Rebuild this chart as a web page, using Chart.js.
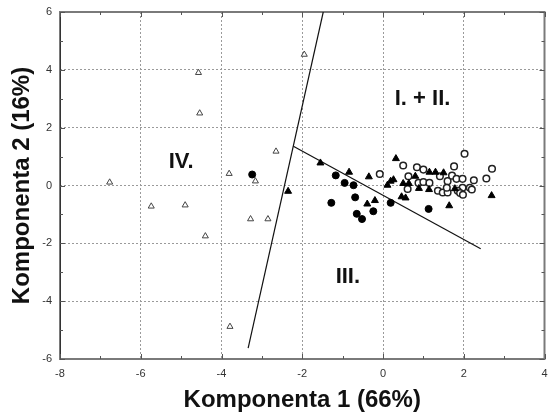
<!DOCTYPE html>
<html>
<head>
<meta charset="utf-8">
<title>Komponenta 1 (66%) / Komponenta 2 (16%)</title>
<script src="https://cdn.jsdelivr.net/npm/chart.js@4.4.1/dist/chart.umd.min.js"></script>
<style>
  html, body { margin: 0; padding: 0; background: #fff; overflow: hidden; }
  #wrap { width: 550px; height: 420px; }
</style>
</head>
<body>
<div id="wrap"><canvas id="pca" width="550" height="420"></canvas></div>
<script>
'use strict';

// Axis ticks.
var xTicks = [-8, -6, -4, -2, 0, 2, 4];
var yTicks = [-6, -4, -2, 0, 2, 4, 6];

// Group IV, open triangles.
var groupIV = [
  [-6.77, 0.11], [-5.74, -0.72], [-4.90, -0.68], [-4.57, 3.90], [-4.54, 2.50],
  [-4.40, -1.75], [-3.81, 0.41], [-3.79, -4.88], [-3.28, -1.16], [-2.85, -1.16],
  [-3.16, 0.15], [-2.65, 1.18], [-1.95, 4.53]
];

// Group III, filled circles.
var groupIII = [
  [-3.24, 0.38], [-1.17, 0.35], [-0.95, 0.09], [-0.73, 0.01], [-1.28, -0.60],
  [-0.69, -0.41], [-0.65, -0.98], [-0.52, -1.16], [-0.24, -0.89], [0.19, -0.60],
  [1.13, -0.81]
];

// Group I, filled triangles.
var groupI = [
  [-2.35, -0.20], [-1.55, 0.78], [-0.84, 0.46], [-0.35, 0.30], [-0.39, -0.64],
  [-0.20, -0.52], [0.11, 0.01], [0.19, 0.15], [0.26, 0.20], [0.32, 0.93],
  [0.46, -0.39], [0.56, -0.43], [0.50, 0.07], [0.64, 0.07], [0.80, 0.32],
  [0.89, -0.10], [1.14, -0.14], [1.15, 0.46], [1.30, 0.46], [1.50, 0.44],
  [1.78, -0.11], [1.64, -0.70], [2.69, -0.35]
];

// Group II, open circles.
var groupII = [
  [-0.08, 0.40], [0.50, 0.69], [0.84, 0.63], [1.00, 0.55], [0.63, 0.32],
  [0.61, -0.12], [0.88, 0.09], [1.00, 0.12], [1.15, 0.09], [1.36, -0.18],
  [1.48, -0.24], [1.60, -0.24], [1.41, 0.32], [1.60, 0.15], [1.71, 0.34],
  [1.82, 0.23], [1.58, -0.08], [1.76, 0.66], [2.02, 1.10], [1.97, 0.23],
  [1.97, -0.08], [1.85, -0.18], [1.91, -0.26], [1.98, -0.32], [2.15, -0.08],
  [2.20, -0.14], [2.25, 0.18], [2.56, 0.24], [2.70, 0.58]
];

// Boundary lines between the groups.
var boundaryA = [[-3.34, -5.62], [-1.48, 6.00]];
var boundaryB = [[-2.22, 1.36], [2.42, -2.19]];

// Region labels, anchored in data units.
var regionText = ['I. + II.', 'III.', 'IV.'];
var regionX = [0.98, -0.87, -5.00];
var regionY = [3.00, -3.15, 0.80];

var toPoints = function (list) {
  return list.map(function (p) { return { x: p[0], y: p[1] }; });
};

/**
 * Draws the plot frame, inside tick marks and the region labels.
 */
var pcaDecor = {
  id: 'pcaDecor',
  beforeDatasetsDraw: function (chart) {
    var ctx = chart.ctx;
    var area = chart.chartArea;
    var xs = chart.scales.x;
    var ys = chart.scales.y;
    var v, px, py, len;

    ctx.save();
    ctx.strokeStyle = '#7a7a7a';
    ctx.lineWidth = 2;
    ctx.strokeRect(area.left, area.top, area.right - area.left, area.bottom - area.top);
    ctx.strokeStyle = '#333';
    ctx.lineWidth = 1;
    ctx.beginPath();
    ctx.moveTo(area.left + 0.5, area.top);
    ctx.lineTo(area.left + 0.5, area.bottom);
    ctx.stroke();

    // Inside ticks, long on the labelled values, short between them.
    ctx.strokeStyle = '#555';
    ctx.lineWidth = 1;
    ctx.beginPath();
    for (v = xTicks[0]; v <= xTicks[xTicks.length - 1]; v += 1) {
      len = (v % 2 === 0) ? 5 : 3;
      px = Math.round(xs.getPixelForValue(v)) + 0.5;
      ctx.moveTo(px, area.bottom);
      ctx.lineTo(px, area.bottom - len);
      ctx.moveTo(px, area.top);
      ctx.lineTo(px, area.top + len);
    }
    for (v = yTicks[0]; v <= yTicks[yTicks.length - 1]; v += 1) {
      len = (v % 2 === 0) ? 5 : 3;
      py = Math.round(ys.getPixelForValue(v)) + 0.5;
      ctx.moveTo(area.left, py);
      ctx.lineTo(area.left + len, py);
      ctx.moveTo(area.right, py);
      ctx.lineTo(area.right - len, py);
    }
    ctx.stroke();
    ctx.restore();
  },
  afterDatasetsDraw: function (chart) {
    var ctx = chart.ctx;
    var xs = chart.scales.x;
    var ys = chart.scales.y;
    ctx.save();
    ctx.fillStyle = '#111';
    ctx.font = 'bold 22px "Liberation Sans", Arial, sans-serif';
    ctx.textAlign = 'center';
    ctx.textBaseline = 'middle';
    regionText.forEach(function (t, i) {
      ctx.fillText(t, xs.getPixelForValue(regionX[i]), ys.getPixelForValue(regionY[i]));
    });
    ctx.restore();
  }
};

var tickFont = { family: '"Liberation Sans", Arial, sans-serif', size: 11 };
var titleFont = { family: '"Liberation Sans", Arial, sans-serif', size: 24, weight: 'bold', lineHeight: 1.2 };

var gridOpts = {
  color: '#9a9a9a',
  lineWidth: 1,
  drawTicks: false
};

new Chart(document.getElementById('pca').getContext('2d'), {
  type: 'scatter',
  data: {
    datasets: [
      {
        label: 'I.',
        data: toPoints(groupI),
        pointStyle: 'triangle',
        pointRadius: 4,
        backgroundColor: '#000',
        borderColor: '#000',
        borderWidth: 1
      },
      {
        label: 'III.',
        data: toPoints(groupIII),
        pointStyle: 'circle',
        pointRadius: 3.5,
        backgroundColor: '#000',
        borderColor: '#000',
        borderWidth: 1
      },
      {
        label: 'II.',
        data: toPoints(groupII),
        pointStyle: 'circle',
        pointRadius: 3.3,
        backgroundColor: '#fff',
        borderColor: '#222',
        borderWidth: 1.5
      },
      {
        label: 'IV.',
        data: toPoints(groupIV),
        pointStyle: 'triangle',
        pointRadius: 3.5,
        backgroundColor: '#fff',
        borderColor: '#444',
        borderWidth: 1
      },
      {
        label: 'boundary A',
        data: toPoints(boundaryA),
        showLine: true,
        pointRadius: 0,
        borderColor: '#111',
        borderWidth: 1.2,
        fill: false
      },
      {
        label: 'boundary B',
        data: toPoints(boundaryB),
        showLine: true,
        pointRadius: 0,
        borderColor: '#111',
        borderWidth: 1.2,
        fill: false
      }
    ]
  },
  options: {
    responsive: false,
    animation: false,
    layout: { padding: { top: 12, right: 0, bottom: 0, left: 0 } },
    plugins: {
      legend: { display: false },
      tooltip: { enabled: false }
    },
    scales: {
      x: {
        type: 'linear',
        min: xTicks[0],
        max: xTicks[xTicks.length - 1],
        ticks: { stepSize: 2, color: '#333', font: tickFont, padding: 8, maxRotation: 0 },
        grid: gridOpts,
        border: { display: false, dash: [2, 2] },
        title: { display: true, text: 'Komponenta 1 (66%)', color: '#111', font: titleFont, padding: { top: 0, bottom: 5 } },
        afterFit: function (scale) {
          scale.height = 61;
          scale.paddingLeft = 0;
          scale.paddingRight = 0;
        }
      },
      y: {
        type: 'linear',
        min: yTicks[0],
        max: yTicks[yTicks.length - 1],
        ticks: { stepSize: 2, color: '#333', font: tickFont, padding: 8 },
        grid: gridOpts,
        border: { display: false, dash: [2, 2] },
        title: { display: true, text: 'Komponenta 2 (16%)', color: '#111', font: titleFont, padding: { top: 8, bottom: 0 } },
        afterFit: function (scale) {
          scale.width = 60;
          scale.paddingTop = 0;
          scale.paddingBottom = 0;
        }
      }
    }
  },
  plugins: [pcaDecor]
});
</script>
</body>
</html>
